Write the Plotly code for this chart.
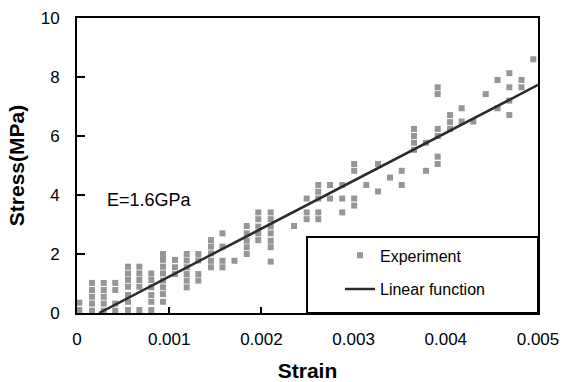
import plotly.graph_objects as go

# Experiment data: strain column positions and stress values in each column
strain_cols = [0.000025, 0.000163, 0.00029, 0.000415, 0.000553, 0.000676, 0.000806, 0.000933,
               0.001063, 0.00119, 0.001316, 0.001453, 0.001578, 0.001708, 0.001841, 0.001966,
               0.002101, 0.002354, 0.002491, 0.002617, 0.002744, 0.002877, 0.003006, 0.003138,
               0.003265, 0.003395, 0.003522, 0.003655, 0.003785, 0.003912, 0.004046, 0.004172,
               0.004298, 0.004433, 0.004561, 0.004689, 0.004821, 0.004949]
stress_cols = [
    [0.1, 0.35],
    [0.08, 0.32, 0.55, 0.78, 1.02],
    [0.08, 0.32, 0.55, 0.78, 1.02],
    [0.08, 0.32, 0.78, 1.02],
    [0.1, 0.38, 0.61, 0.89, 1.12, 1.34, 1.57],
    [0.1, 0.89, 1.12, 1.34, 1.57],
    [0.1, 0.38, 0.61, 0.87, 1.12, 1.34],
    [0.38, 0.64, 0.87, 1.1, 1.34, 1.57, 1.8, 2.0],
    [1.32, 1.55, 1.8],
    [0.87, 1.1, 1.32, 1.55, 1.78, 2.0],
    [1.1, 1.32, 1.78, 2.0],
    [1.55, 1.77, 2.02, 2.25, 2.47],
    [1.55, 1.77, 2.25, 2.7],
    [1.77],
    [2.0, 2.23, 2.45, 2.7, 2.95],
    [2.47, 2.7, 2.93, 3.18, 3.41],
    [1.74, 2.23, 2.45, 2.7, 2.93, 3.18, 3.41],
    [2.95],
    [3.18, 3.41, 3.88],
    [3.18, 3.41, 3.88, 4.11, 4.34],
    [3.88, 4.34],
    [3.41, 3.88, 4.34],
    [3.64, 3.88, 4.82, 5.05],
    [4.34],
    [4.12, 5.05],
    [4.59],
    [4.34, 4.82],
    [5.53, 5.77, 6.0, 6.24],
    [4.82, 5.77],
    [5.05, 5.3, 6.0, 6.24, 7.42, 7.65],
    [6.24, 6.47, 6.71],
    [6.49, 6.94],
    [6.49],
    [7.42],
    [6.94, 7.9],
    [6.71, 7.2, 7.65, 8.13],
    [7.65, 7.9],
    [8.6],
]

# Linear function fit (E = 1.6 GPa)
fit_strain = [0.00024, 0.005]
fit_stress = [0.0, 7.73]

x_ticks = [0, 0.001, 0.002, 0.003, 0.004, 0.005]
x_tick_text = ["0", "0.001", "0.002", "0.003", "0.004", "0.005"]
y_ticks = [0, 2, 4, 6, 8, 10]

exp_strain = []
exp_stress = []
for xs, ys in zip(strain_cols, stress_cols):
    for yv in ys:
        exp_strain.append(xs)
        exp_stress.append(yv)

FONT = "Liberation Sans, Arial, sans-serif"

fig = go.Figure()
fig.add_trace(go.Scatter(
    x=exp_strain, y=exp_stress, mode="markers", name="Experiment",
    legendgroup="a",
    marker=dict(symbol="square", size=6, color="#969696", line=dict(width=0)),
))
fig.add_trace(go.Scatter(
    x=fit_strain, y=fit_stress, mode="lines", name="Linear function",
    legendgroup="b",
    line=dict(color="#2b2b2b", width=2.5),
))

# legend frame
fig.add_shape(type="rect", xref="paper", yref="paper", x0=0.499, x1=1.0, y0=0.0, y1=0.258,
              line=dict(color="black", width=2), fillcolor="white", layer="above")

fig.add_annotation(x=0.0003, y=3.83, xref="x", yref="y", text="E=1.6GPa", showarrow=False,
                   xanchor="left", yanchor="middle", font=dict(family=FONT, size=18, color="black"))

fig.update_layout(
    width=563, height=382,
    margin=dict(l=77, r=25, t=18, b=69),
    paper_bgcolor="white", plot_bgcolor="white",
    font=dict(family=FONT, color="black"),
    showlegend=True,
    legend=dict(x=0.5705, y=0.253, xanchor="left", yanchor="top",
                bgcolor="rgba(0,0,0,0)", borderwidth=0,
                font=dict(family=FONT, size=16, color="black"),
                tracegroupgap=10, traceorder="grouped"),
    xaxis=dict(range=[0, 0.005], tickvals=x_ticks, ticktext=x_tick_text, automargin=False,
               showgrid=False, zeroline=False, showline=True, linecolor="black", linewidth=2,
               mirror=True, ticks="inside", ticklen=6, tickwidth=2, tickcolor="black",
               tickfont=dict(family=FONT, size=17, color="black"), ticklabelstandoff=10,
               title=dict(text="<b>Strain</b>", font=dict(family=FONT, size=21, color="black"), standoff=18)),
    yaxis=dict(range=[0, 10], tickvals=y_ticks, automargin=False,
               showgrid=False, zeroline=False, showline=True, linecolor="black", linewidth=2,
               mirror=True, ticks="inside", ticklen=8, tickwidth=2, tickcolor="black",
               tickfont=dict(family=FONT, size=17, color="black"), ticklabelstandoff=12,
               title=dict(text="<b>Stress(MPa)</b>", font=dict(family=FONT, size=21, color="black"), standoff=10)),
)

fig.write_html("out.html")
